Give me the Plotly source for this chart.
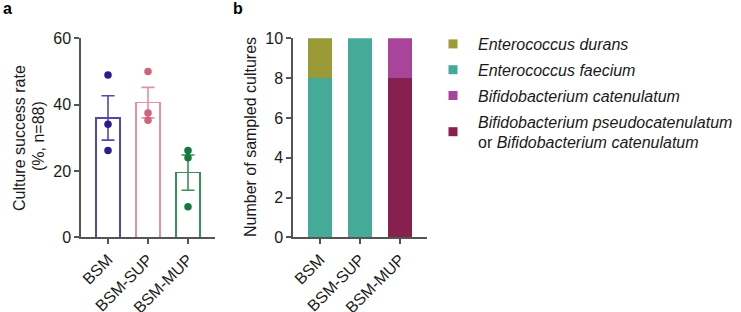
import plotly.graph_objects as go

# ---------------- data ----------------
groups = ["BSM", "BSM-SUP", "BSM-MUP"]
rate_mean = [36.0, 40.6, 19.5]
rate_sem = [6.7, 4.6, 5.3]
rate_points = {
    "BSM": [48.9, 34.1, 26.2],
    "BSM-SUP": [50.0, 37.5, 35.3],
    "BSM-MUP": [26.2, 24.0, 9.2],
}
point_colors = ["#2e1c8c", "#d4617a", "#137a3b"]
outline_colors = ["#5546ad", "#e3929f", "#3a9157"]

species = [
    "Enterococcus durans",
    "Enterococcus faecium",
    "Bifidobacterium catenulatum",
    "Bifidobacterium pseudocatenulatum",
]
counts_durans = [2, 0, 0]
counts_faecium = [8, 10, 0]
counts_catenulatum = [0, 0, 2]
counts_pseudo = [0, 0, 8]
species_colors = ["#9a9a36", "#45ab98", "#a8449a", "#87204f"]

W, H = 741, 312
FONT = "Liberation Sans, Arial, Helvetica, sans-serif"
AX = "#555555"
TXT = "#1a1a1a"

def px_x(p):
    return p / W

def px_y(p):
    return 1 - p / H

fig = go.Figure()

# ---------------- panel a ----------------
fig.add_trace(go.Bar(
    x=groups, y=rate_mean, width=0.6,
    marker=dict(color="white", line=dict(color=outline_colors, width=1.6)),
    xaxis="x", yaxis="y", showlegend=False,
))
for g, m, s, c in zip(groups, rate_mean, rate_sem, outline_colors):
    fig.add_trace(go.Scatter(
        x=[g], y=[m], mode="markers",
        marker=dict(size=1, color="rgba(0,0,0,0)"),
        error_y=dict(type="data", array=[s], color=c, thickness=1.6, width=6.5),
        xaxis="x", yaxis="y", showlegend=False,
    ))
for g, c in zip(groups, point_colors):
    pts = rate_points[g]
    fig.add_trace(go.Scatter(
        x=[g] * len(pts), y=pts, mode="markers",
        marker=dict(size=7.5, color=c),
        xaxis="x", yaxis="y", showlegend=False,
    ))

# ---------------- panel b ----------------
stack_order = [
    (counts_faecium, 1),
    (counts_pseudo, 3),
    (counts_durans, 0),
    (counts_catenulatum, 2),
]
for vals, idx in stack_order:
    fig.add_trace(go.Bar(
        x=groups, y=vals, width=0.6,
        marker=dict(color=species_colors[idx], line=dict(width=0)),
        xaxis="x2", yaxis="y2", showlegend=False,
    ))

legend_names = [
    "<i>Enterococcus durans</i>",
    "<i>Enterococcus faecium</i>",
    "<i>Bifidobacterium catenulatum</i>",
    "<i>Bifidobacterium pseudocatenulatum</i><br>or <i>Bifidobacterium catenulatum</i>",
]
for i, (nm, col) in enumerate(zip(legend_names, species_colors)):
    fig.add_trace(go.Scatter(
        x=[None], y=[None], mode="markers", name=nm,
        marker=dict(symbol="square", size=9, color=col),
        xaxis="x2", yaxis="y2", showlegend=True,
        legendgroup=f"g{i}", legendrank=i + 1,
    ))

ydom = [px_y(237.3), px_y(38.3)]
common_y = dict(
    showline=True, linecolor=AX, linewidth=1.5,
    ticks="outside", ticklen=5, tickwidth=1.5, tickcolor=AX,
    showgrid=False, zeroline=False, automargin=False,
    tickfont=dict(size=16, color=TXT, family=FONT),
    domain=ydom,
)
common_x = dict(
    showline=True, linecolor=AX, linewidth=1.5,
    ticks="outside", ticklen=5, tickwidth=1.5, tickcolor=AX,
    showgrid=False, zeroline=False, tickangle=-45, automargin=False,
    tickfont=dict(size=16, color=TXT, family=FONT),
    range=[-0.675, 2.675], type="category",
)

fig.update_layout(
    width=W, height=H,
    margin=dict(l=0, r=0, t=0, b=0, pad=0, autoexpand=False),
    paper_bgcolor="white", plot_bgcolor="white",
    font=dict(family=FONT, size=16, color=TXT),
    barmode="stack",
    xaxis=dict(domain=[px_x(81), px_x(215)], anchor="y", **common_x),
    yaxis=dict(range=[0, 60], tickvals=[0, 20, 40, 60], anchor="x", **common_y),
    xaxis2=dict(domain=[px_x(293), px_x(427)], anchor="y2", **common_x),
    yaxis2=dict(range=[0, 10], tickvals=[0, 2, 4, 6, 8, 10], anchor="x2", **common_y),
    legend=dict(
        x=px_x(428), y=px_y(27), xanchor="left", yanchor="top",
        font=dict(size=16, color=TXT, family=FONT),
        bgcolor="rgba(0,0,0,0)", itemsizing="trace", itemwidth=40,
        tracegroupgap=2, traceorder="grouped",
    ),
    annotations=[
        dict(text="<b>a</b>", x=px_x(1), y=px_y(-2), xref="paper", yref="paper",
             xanchor="left", yanchor="top", showarrow=False,
             font=dict(size=16, color="black", family=FONT)),
        dict(text="<b>b</b>", x=px_x(231), y=px_y(-2), xref="paper", yref="paper",
             xanchor="left", yanchor="top", showarrow=False,
             font=dict(size=16, color="black", family=FONT)),
        dict(text="Culture success rate", x=px_x(19), y=px_y(138),
             xref="paper", yref="paper", xanchor="center", yanchor="middle",
             textangle=-90, showarrow=False, font=dict(size=16, color=TXT, family=FONT)),
        dict(text="(%, n=88)", x=px_x(38), y=px_y(136),
             xref="paper", yref="paper", xanchor="center", yanchor="middle",
             textangle=-90, showarrow=False, font=dict(size=16, color=TXT, family=FONT)),
        dict(text="Number of sampled cultures", x=px_x(250), y=px_y(137),
             xref="paper", yref="paper", xanchor="center", yanchor="middle",
             textangle=-90, showarrow=False, font=dict(size=16, color=TXT, family=FONT)),
    ],
)

fig.write_html("out.html")
